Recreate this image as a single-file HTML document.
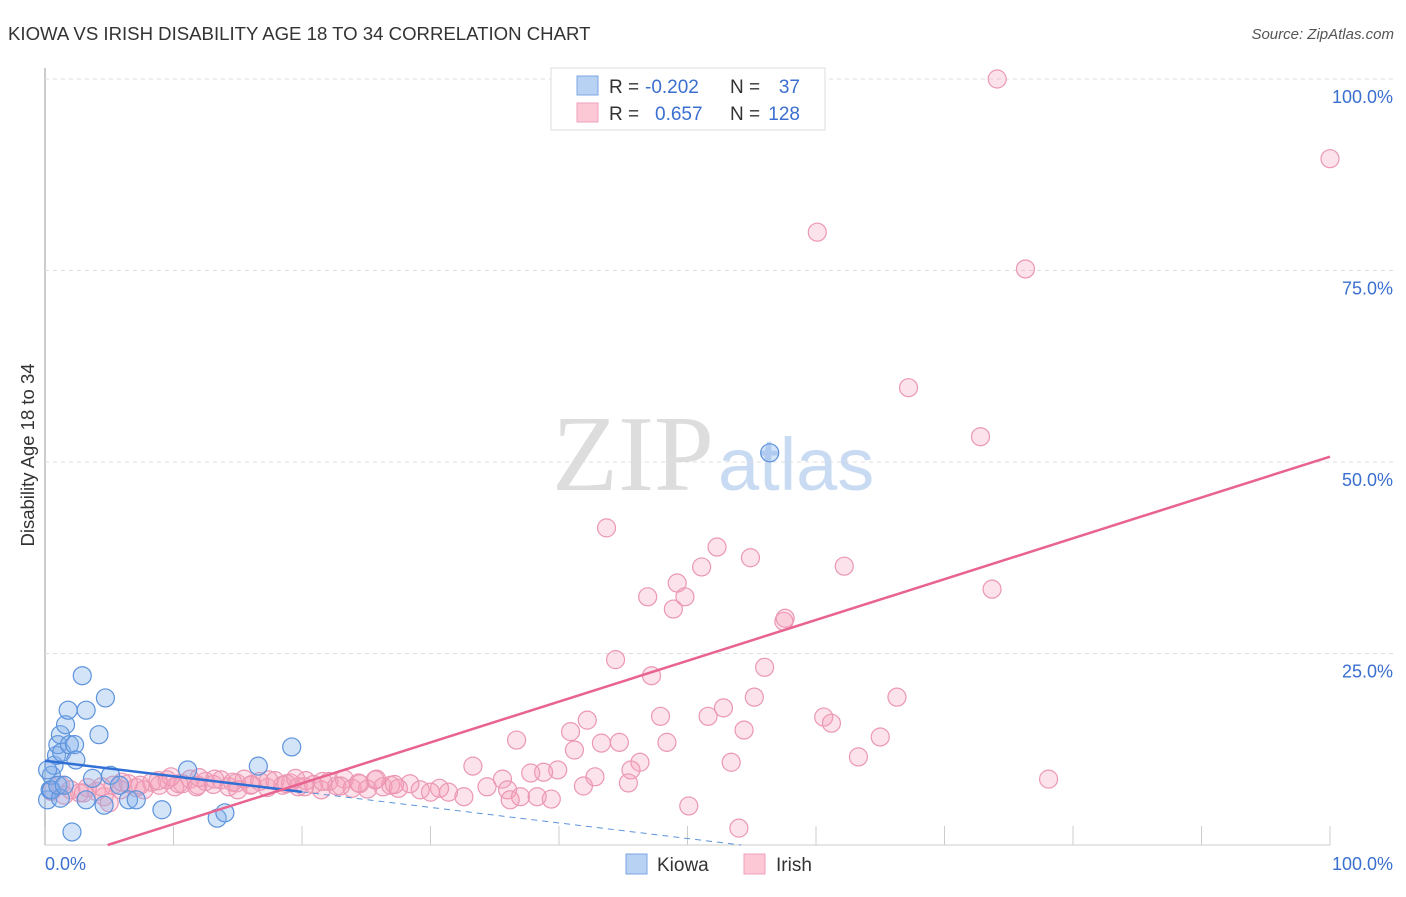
<!DOCTYPE html>
<html><head><meta charset="utf-8"><style>
body{margin:0;background:#fff;font-family:"Liberation Sans",sans-serif}
</style></head><body>
<svg id="chart" width="1406" height="892" xmlns="http://www.w3.org/2000/svg">
<text x="8" y="40" font-size="18.6" fill="#333">KIOWA VS IRISH DISABILITY AGE 18 TO 34 CORRELATION CHART</text>
<text x="1394" y="39" font-size="15" fill="#555" font-style="italic" text-anchor="end">Source: ZipAtlas.com</text>
<text x="714" y="490" font-size="108" fill="#ddd" text-anchor="end" font-family="Liberation Serif,serif">ZIP</text>
<text x="718" y="490" font-size="74" fill="#c9dbf2">atlas</text>
<g id="grid"></g><g id="pts"></g><g id="lines"></g>
<text transform="translate(34,455) rotate(-90)" font-size="18.5" fill="#333" text-anchor="middle">Disability Age 18 to 34</text>
<text x="45" y="870" font-size="18" fill="#3a6fd0">0.0%</text>
<text x="1393" y="870" font-size="18" fill="#3a6fd0" text-anchor="end">100.0%</text>
<g>
<rect x="551" y="68" width="274" height="62" fill="#fff" stroke="#ddd"/>
<rect x="577" y="76" width="21" height="19" fill="#b8d2f4" stroke="#7aa7e3"/>
<rect x="577" y="103" width="21" height="19" fill="#fcc8d6" stroke="#eea0b8"/>
<text x="609" y="93" font-size="19" fill="#333">R =</text><text x="645" y="93" font-size="19" fill="#3a6fd0">-0.202</text>
<text x="730" y="93" font-size="19" fill="#333">N =</text><text x="800" y="93" font-size="19" fill="#3a6fd0" text-anchor="end">37</text>
<text x="609" y="120" font-size="19" fill="#333">R =</text><text x="655" y="120" font-size="19" fill="#3a6fd0">0.657</text>
<text x="730" y="120" font-size="19" fill="#333">N =</text><text x="800" y="120" font-size="19" fill="#3a6fd0" text-anchor="end">128</text>
</g>
<g>
<rect x="626" y="854" width="21" height="20" fill="#b8d2f4" stroke="#7aa7e3"/>
<text x="657" y="871" font-size="19" fill="#333">Kiowa</text>
<rect x="744" y="854" width="21" height="20" fill="#fcc8d6" stroke="#eea0b8"/>
<text x="776" y="871" font-size="19" fill="#333">Irish</text>
</g>
</svg>
<script>
const yTicks=[25,50,75,100];
const yTickLabels=["25.0%","50.0%","75.0%","100.0%"];
const xTicks=[0,10,20,30,40,50,60,70,80,90,100];
const kiowaX=[0.2,0.4,0.5,0.7,0.9,1.0,1.2,1.3,1.6,1.8,1.9,2.3,2.4,2.9,3.2,3.2,3.7,4.2,4.6,4.7,5.1,5.8,6.5,7.1,9.1,2.1,11.1,13.4,14.0,16.6,19.2,0.5,1.2,0.2,1.0,1.5,56.4];
const kiowaY=[5.9,7.2,9.1,10.4,11.7,13.1,14.4,12.1,15.7,17.6,13.1,13.1,11.1,22.1,17.6,5.9,8.7,14.4,5.2,19.2,9.1,7.8,5.9,5.9,4.6,1.7,9.8,3.5,4.2,10.3,12.8,7.2,6.1,9.8,7.8,7.8,51.2];
const irishX=[74.1,100,60.1,76.3,67.2,72.8,43.7,52.3,54.9,51.1,49.2,62.2,46.9,49.8,73.7,48.9,57.5,57.6,44.4,56.0,47.2,55.2,66.3,52.8,47.9,51.6,42.2,60.6,61.2,40.9,54.4,36.7,43.3,44.7,48.4,65.0,41.2,33.3,46.3,53.4,63.3,45.6,39.9,38.8,37.8,78.1,42.8,35.6,34.4,45.4,41.9,36.0,37.0,39.4,38.3,36.2,50.1,54.0,32.6,31.4,30.7,30.0,29.2,28.4,
0.5,1.2,2.0,2.7,3.3,4.0,4.6,5.3,5.9,6.5,7.1,7.7,8.3,8.9,9.5,10.1,10.7,11.3,11.9,12.5,13.1,13.7,14.3,14.9,15.5,16.1,16.7,17.3,17.9,18.5,19.1,19.7,20.3,20.9,21.5,22.1,22.7,23.3,23.9,24.5,25.1,25.7,26.3,26.9,27.5,1.5,3.0,4.4,6.0,7.4,8.8,10.4,11.8,13.2,14.6,16.0,17.4,18.8,20.2,21.6,23.0,24.4,25.8,27.2,5.0,9.8,12.0,15.0,19.5];
const irishY=[100.0,89.6,80.0,75.2,59.7,53.3,41.4,38.9,37.5,36.3,34.2,36.4,32.4,32.4,33.4,30.8,29.2,29.6,24.2,23.2,22.1,19.3,19.3,17.9,16.8,16.8,16.3,16.7,15.9,14.8,15.0,13.7,13.3,13.4,13.4,14.1,12.4,10.3,10.8,10.8,11.5,9.8,9.8,9.5,9.4,8.6,8.9,8.6,7.6,8.1,7.7,7.2,6.3,6.0,6.3,5.9,5.1,2.2,6.3,6.9,7.4,6.9,7.2,8.0,
7.0,7.8,7.2,6.8,7.5,7.0,6.3,7.8,7.2,8.0,7.5,7.2,8.2,7.8,8.5,7.6,8.0,8.6,7.8,8.3,7.9,8.5,7.6,8.1,8.6,7.9,8.3,7.5,8.4,7.8,8.1,7.6,8.4,7.9,7.2,8.3,7.7,8.6,7.4,8.0,7.3,8.5,7.6,7.8,7.4,6.5,6.8,7.6,8.2,7.8,8.4,8.0,7.6,8.6,8.2,7.8,8.5,8.0,7.6,8.3,7.7,8.1,8.6,7.9,5.5,8.9,8.8,7.2,8.7];
const kiowaLine=[11.0,-0.203];   // intercept, slope
const irishLine=[-2.6,0.533];
const X=v=>45+v*12.85, Y=v=>845-v*7.66;
const NS="http://www.w3.org/2000/svg";
function mk(tag,attrs,parent){const e=document.createElementNS(NS,tag);for(const k in attrs)e.setAttribute(k,attrs[k]);parent.appendChild(e);return e;}
const grid=document.getElementById('grid');
let ax=mk('line',{x1:45,y1:68,x2:45,y2:845,stroke:'#bbb','stroke-width':1.5},grid);


let bx=mk('line',{x1:45,y1:845,x2:1330,y2:845,stroke:'#ccc'},grid);


yTicks.forEach((t,i)=>{
 const g=mk('line',{x1:45,y1:Y(t),x2:1393,y2:Y(t),stroke:'#ddd','stroke-dasharray':'4,4'},grid);
 
 
 const l=mk('text',{x:1393,y:Y(t)+24,'font-size':18,fill:'#3a6fd0','text-anchor':'end'},grid);
 l.textContent=yTickLabels[i];
 
 
});
xTicks.forEach(t=>{
 const k=mk('line',{x1:X(t),y1:826,x2:X(t),y2:845,stroke:'#ccc'},grid);
 
 
});
const pts=document.getElementById('pts');
irishX.forEach((x,i)=>{
 const c=mk('circle',{cx:X(x),cy:Y(irishY[i]),r:9,fill:'rgba(246,160,185,0.3)',stroke:'#eb97b3','stroke-width':1.2},pts);
 
 
});
kiowaX.forEach((x,i)=>{
 const c=mk('circle',{cx:X(x),cy:Y(kiowaY[i]),r:9,fill:'rgba(130,175,235,0.35)',stroke:'#5c93dc','stroke-width':1.2},pts);
 
 
});
const lines=document.getElementById('lines');
const kf=v=>kiowaLine[0]+kiowaLine[1]*v;
let k1=mk('line',{x1:X(0),y1:Y(kf(0)),x2:X(20),y2:Y(kf(20)),stroke:'#2f6fd6','stroke-width':2.5},lines);


const kEnd=-kiowaLine[0]/kiowaLine[1];
let k2=mk('line',{x1:X(20),y1:Y(kf(20)),x2:X(kEnd),y2:Y(0),stroke:'#5c93dc','stroke-width':1,'stroke-dasharray':'6,5'},lines);


const iStart=-irishLine[0]/irishLine[1];
let p=mk('line',{x1:X(iStart),y1:Y(0),x2:X(100),y2:Y(irishLine[0]+irishLine[1]*100),stroke:'#e8638f','stroke-width':2.5},lines);


</script>
</body></html>
